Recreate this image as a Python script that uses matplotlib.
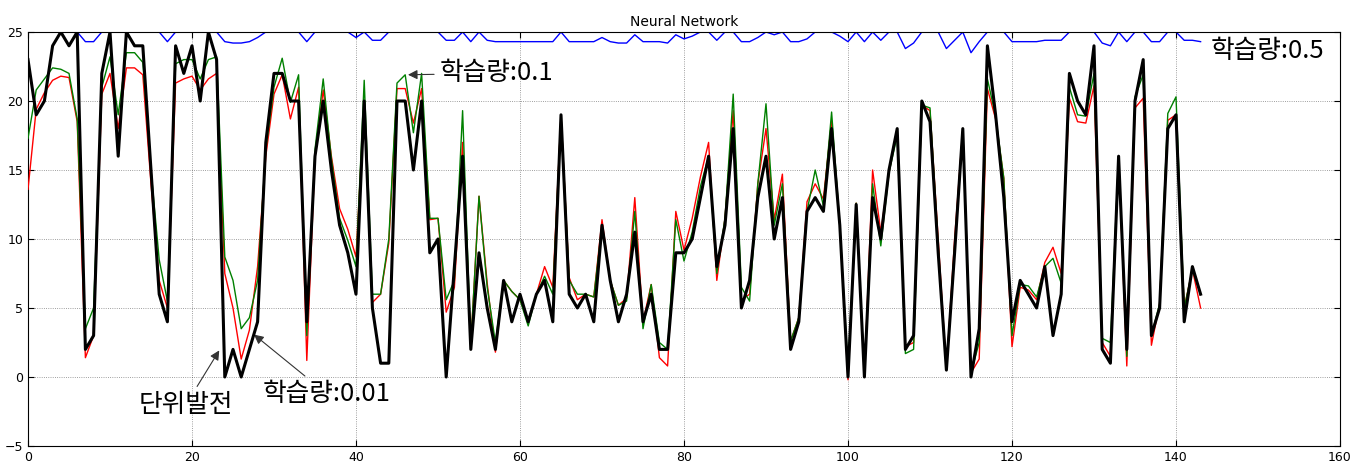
import matplotlib
matplotlib.use("Agg")
import matplotlib.pyplot as plt
import numpy as np

title = "Neural Network"

actual = [23, 19, 20, 24, 25, 24, 25, 2, 3, 22,
          25, 16, 25, 24, 24, 15, 6, 4, 24, 22,
          24, 20, 25, 23, 0, 2, 0, 2, 4, 17,
          22, 22, 20, 20, 4, 16, 20, 15, 11, 9,
          6, 20, 5, 1, 1, 20, 20, 15, 20, 9,
          10, 0, 8, 16, 2, 9, 5, 2, 7, 4,
          6, 4, 6, 7, 4, 19, 6, 5, 6, 4,
          11, 7, 4, 6, 10.5, 4, 6, 2, 2, 9,
          9, 10, 13, 16, 8, 11, 18, 5, 7, 13,
          16, 10, 13, 2, 4, 12, 13, 12, 18, 11,
          0, 12.5, 0, 13, 10, 15, 18, 2, 3, 20,
          18.5, 9, 0.5, 9, 18, 0, 3.5, 24, 19, 13,
          4, 7, 6, 5, 8, 3, 6, 22, 20, 19,
          24, 2, 1, 16, 2, 20, 23, 3, 5, 18,
          19, 4, 8, 6]

lr_001 = [13.6, 19.4, 20.6, 21.5, 21.8, 21.7, 18.5, 1.4, 3, 20.5,
          22, 18, 22.4, 22.4, 21.9, 14, 7, 5, 21.3, 21.6,
          21.8, 20.8, 21.6, 22, 7.5, 5, 1.3, 3.4, 8, 16,
          20.5, 21.9, 18.7, 21, 1.2, 16, 20.8, 16, 12.2, 10.7,
          8.7, 20, 5.4, 6, 9.7, 20.9, 20.9, 18.4, 20.9, 11.4,
          11.5, 4.7, 6.5, 17, 2.3, 13.1, 6.8, 1.8, 7, 6.2,
          5.6, 4, 6, 8, 6.5, 19, 7.2, 5.6, 6, 5.8,
          11.4, 7, 5.2, 5.7, 13, 4, 6.7, 1.4, 0.8, 12,
          9.2, 11.5, 14.5, 17, 7, 11.5, 19.3, 5.6, 6, 14,
          18, 11.4, 14.7, 2.6, 4.3, 12.7, 14, 12.9, 18.6, 11,
          -0.2, 12.6, 0, 15, 10.5, 14.8, 18, 2.2, 2.5, 19.7,
          19.3, 10, 0.5, 10, 18, 0.3, 1.3, 20.9, 18.7, 14.4,
          2.2, 6.5, 6.3, 5.6, 8.3, 9.4, 7.5, 20.2, 18.5, 18.4,
          21.1, 2.5, 1.5, 16, 0.8, 19.5, 20.2, 2.3, 5.3, 18.6,
          19, 5, 7.8, 5]

lr_01 = [17.3, 20.8, 21.6, 22.4, 22.3, 22, 18.7, 3.5, 5, 21,
         23.2, 19, 23.5, 23.5, 22.8, 15, 8.5, 5.5, 22.7, 23,
         23, 21.6, 23, 23.2, 8.7, 7, 3.5, 4.3, 7, 16.5,
         21, 23.1, 19.9, 21.9, 3, 16.5, 21.6, 15.8, 11.5, 9.9,
         8, 21.5, 6, 6, 10, 21.3, 21.9, 17.7, 22, 11.5,
         11.5, 5.6, 7, 19.3, 2.3, 13.1, 6.5, 2.5, 7, 6.2,
         5.6, 3.7, 6, 7.3, 6, 19, 7, 6, 6, 5.8,
         11, 7, 5.2, 5.5, 12, 3.5, 6.7, 2.5, 2, 11.4,
         8.4, 10.5, 13.8, 16, 7.5, 11.5, 20.5, 6.5, 5.5, 14,
         19.8, 11, 14, 2.6, 4.3, 12, 15, 12.4, 19.2, 11,
         0.6, 12.6, 0, 14, 9.5, 14.8, 17.5, 1.7, 2, 19.7,
         19.5, 9.5, 0.5, 9.5, 18, 0.3, 2.5, 21.6, 18.9, 14.4,
         3, 6.7, 6.6, 5.8, 8, 8.6, 6.8, 21, 19, 18.9,
         22, 2.8, 2.5, 16, 1.5, 20.3, 21.9, 3, 5.3, 19.1,
         20.3, 5, 7.8, 6]

lr_05 = [25, 25, 25, 25, 25, 25, 25, 24.3, 24.3, 25,
         25, 25, 25, 25, 25, 25, 25, 24.3, 25, 25,
         25, 25, 25, 25, 24.3, 24.2, 24.2, 24.3, 24.6, 25,
         25, 25, 25, 25, 24.3, 25, 25, 25, 25, 25,
         24.6, 25, 24.4, 24.4, 25, 25, 25, 25, 25, 25,
         25, 24.4, 24.4, 25, 24.3, 25, 24.4, 24.3, 24.3, 24.3,
         24.3, 24.3, 24.3, 24.3, 24.3, 25, 24.3, 24.3, 24.3, 24.3,
         24.6, 24.3, 24.2, 24.2, 24.8, 24.3, 24.3, 24.3, 24.2, 24.8,
         24.5, 24.7, 25, 25, 24.4, 25, 25, 24.3, 24.3, 24.6,
         25, 24.8, 25, 24.3, 24.3, 24.5, 25, 25, 25, 24.7,
         24.3, 25, 24.3, 25, 24.4, 25, 25, 23.8, 24.2, 25,
         25, 25, 23.8, 24.4, 25, 23.5, 24.3, 25, 25, 25,
         24.3, 24.3, 24.3, 24.3, 24.4, 24.4, 24.4, 25, 25, 25,
         25, 24.2, 24.0, 25, 24.3, 25, 25, 24.3, 24.3, 25,
         25, 24.4, 24.4, 24.3]

x_ticks = [0, 20, 40, 60, 80, 100, 120, 140, 160]
y_ticks = [-5, 0, 5, 10, 15, 20, 25]

plt.rcParams['font.family'] = ['DejaVu Sans']
kfont = ['Noto Sans CJK KR', 'DejaVu Sans']

fig = plt.figure(figsize=(13.7, 4.62), dpi=100)
ax = fig.add_axes([28/1370, 16/462, (1340-28)/1370, (446-32)/462])

x = np.arange(len(actual))
ax.plot(x, lr_05, color='#0000ff', lw=1.0, zorder=2)
ax.plot(x, lr_001, color='#ff0000', lw=1.0, zorder=3)
ax.plot(x, lr_01, color='#008000', lw=1.0, zorder=3)
ax.plot(x, actual, color='black', lw=2.2, zorder=4)

ax.set_xlim(0, 160)
ax.set_ylim(-5, 25)
ax.set_xticks(x_ticks)
ax.set_yticks(y_ticks)
ax.tick_params(direction='in', labelsize=9, length=4, top=True, right=True)
ax.grid(True, color='black', linestyle=':', linewidth=0.6, alpha=0.5)
ax.set_title(title, fontsize=10, pad=4)

fs = 18.5
ax.text(144.2, 23.6, "학습량:0.5", family=kfont, fontsize=fs, ha='left', va='center')
ax.annotate("학습량:0.1", xy=(46, 21.9), xytext=(50.2, 22.0), family=kfont, fontsize=fs,
            ha='left', va='center',
            arrowprops=dict(arrowstyle='-|>', color='#333333', lw=0.8, mutation_scale=14))
ax.annotate("단위발전", xy=(23.5, 2.1), xytext=(13.5, -2.0), family=kfont, fontsize=fs,
            ha='left', va='center',
            arrowprops=dict(arrowstyle='-|>', color='#333333', lw=0.8, mutation_scale=14))
ax.annotate("학습량:0.01", xy=(27.3, 3.2), xytext=(28.6, -1.2), family=kfont, fontsize=fs,
            ha='left', va='center',
            arrowprops=dict(arrowstyle='-|>', color='#333333', lw=0.8, mutation_scale=14))

fig.savefig("out.png", dpi=100)
